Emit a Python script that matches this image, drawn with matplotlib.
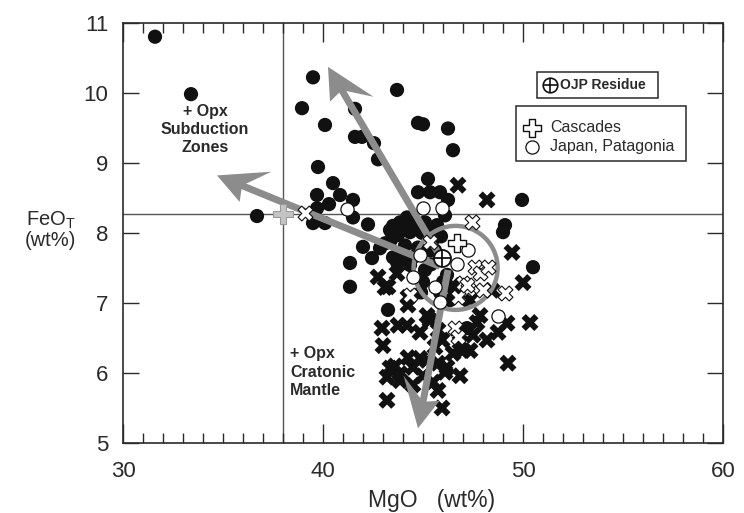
import numpy as np
import matplotlib
matplotlib.use("Agg")
import matplotlib.pyplot as plt
from matplotlib.ticker import MultipleLocator
from matplotlib.patches import Polygon, Rectangle, Ellipse

plt.rcParams['font.family'] = ['Liberation Sans', 'DejaVu Sans']
plt.rcParams['mathtext.fontset'] = 'custom'
plt.rcParams['mathtext.rm'] = 'Liberation Sans'

# ---------------- data ----------------
black_dots_mgo = [31.6, 33.4, 39.5, 38.95, 40.1, 41.6, 43.7, 44.75, 45.0, 46.25, 46.5, 41.6, 41.95, 42.55,
                  42.75, 39.75, 45.25, 40.5, 39.7, 40.85, 41.5, 40.3, 39.7, 36.7, 39.5, 40.1, 41.5, 42.25,
                  44.75, 45.35, 45.85, 46.25, 49.95, 49.1, 49.0, 50.5, 42.0, 42.45, 41.35, 41.35, 43.25,
                  42.85, 43.5, 44.0, 43.35, 44.2, 43.85, 44.45, 45.1, 45.7, 46.1, 43.75, 44.35, 44.95,
                  45.55, 44.1, 44.75, 45.35, 43.7, 44.35, 45.1, 45.0, 46.2, 46.6, 46.35, 45.85, 47.2,
                  43.5, 44.0, 44.6, 45.2, 43.9, 44.5, 43.4, 45.6, 46.0, 45.4, 43.1, 44.9, 45.9]
black_dots_feo = [10.80, 9.98, 10.22, 9.78, 9.54, 9.77, 10.04, 9.57, 9.55, 9.49, 9.18, 9.37, 9.37, 9.28,
                  9.05, 8.94, 8.77, 8.71, 8.54, 8.54, 8.47, 8.41, 8.35, 8.24, 8.14, 8.14, 8.22, 8.12,
                  8.58, 8.58, 8.58, 8.47, 8.47, 8.11, 8.01, 7.51, 7.80, 7.64, 7.57, 7.23, 6.90,
                  7.78, 7.65, 7.65, 8.04, 8.22, 8.15, 8.21, 8.15, 8.11, 8.25, 7.97, 8.01, 8.00,
                  7.92, 7.82, 7.79, 7.75, 7.58, 7.54, 7.47, 7.30, 7.40, 7.18, 7.04, 7.15, 6.64,
                  8.10, 8.05, 8.10, 8.00, 7.70, 7.65, 7.90, 7.75, 7.30, 7.55, 7.85, 7.15, 7.95]

black_x_mgo = [46.75, 48.2, 49.45, 50.0, 48.45, 47.85, 50.35, 42.75, 43.25, 43.7, 44.25, 44.25, 42.95,
               43.75, 44.2, 44.85, 45.35, 45.75, 47.7, 48.2, 49.2, 48.75, 47.35, 43.0, 49.25, 44.25,
               44.85, 43.35, 43.2, 43.85, 43.85, 45.75, 46.1, 46.85, 45.5, 45.75, 43.2, 45.95, 44.5,
               45.0, 46.5, 47.5, 47.0, 44.5, 45.95, 46.85, 45.6, 46.2, 47.35, 46.5, 45.2, 43.6, 45.2, 43.1]
black_x_feo = [8.68, 8.47, 7.72, 7.29, 7.18, 6.82, 6.72, 7.37, 7.23, 7.42, 6.97, 7.08, 6.64,
               6.68, 6.68, 6.58, 6.75, 6.61, 6.72, 6.47, 6.71, 6.58, 6.32, 6.39, 6.14, 6.22,
               6.21, 6.07, 5.94, 5.99, 5.89, 6.14, 6.01, 5.96, 5.87, 5.75, 5.61, 5.50, 6.08,
               5.96, 6.28, 6.54, 6.32, 5.83, 6.47, 6.44, 6.37, 6.08, 7.04, 7.25, 6.18, 6.10, 6.82, 7.22]

white_x_mgo = [39.1, 47.45, 45.35, 47.6, 47.85, 47.0, 47.25, 46.75, 49.1, 48.0, 44.35, 48.25, 46.6, 46.75, 47.2]
white_x_feo = [8.28, 8.15, 7.87, 7.51, 7.42, 7.29, 7.20, 7.08, 7.14, 7.18, 7.11, 7.51, 6.64, 6.51, 7.25]

japan_mgo = [41.2, 45.0, 45.95, 44.85, 46.7, 44.5, 45.6, 45.85, 48.75, 47.25]
japan_feo = [8.34, 8.35, 8.35, 7.68, 7.55, 7.37, 7.22, 7.01, 6.82, 7.75]

cascades_mgo = [46.7]
cascades_feo = [7.85]

ojp_mgo = [45.95]
ojp_feo = [7.64]

opx_point_mgo = [38.0]
opx_point_feo = [8.27]

# arrows: start and tip
arrow_start_mgo = [45.95, 45.85, 46.25]
arrow_start_feo = [7.62, 7.52, 7.47]
arrow_tip_mgo = [40.25, 34.7, 44.75]
arrow_tip_feo = [10.37, 8.82, 5.21]

ring_center = (46.63, 7.50)
ring_radius_mgo = 2.1

ref_line_mgo = 38.0
ref_line_feo = 8.27

x_ticks = [30, 40, 50, 60]
y_ticks = [5, 6, 7, 8, 9, 10, 11]

# ---------------- figure ----------------
W, H = 744, 513
fig = plt.figure(figsize=(W / 100, H / 100), dpi=100)
ax = fig.add_axes([123 / W, 1 - 443 / H, 600 / W, 420.3 / H])
ax.set_xlim(30, 60)
ax.set_ylim(5, 11)
ax.autoscale(False)

dark = '#2a2a2a'
gray = '#8c8c8c'

for s in ax.spines.values():
    s.set_linewidth(1.2)
    s.set_color(dark)

ax.set_xticks(x_ticks)
ax.set_yticks(y_ticks)
ax.xaxis.set_minor_locator(MultipleLocator(1))
ax.tick_params(axis='x', which='major', direction='in', length=14, width=1.0, color=dark,
               top=True, labelsize=16, pad=13, labelcolor=dark)
ax.tick_params(axis='x', which='minor', direction='in', length=7, width=1.0, color=dark, top=True)
ax.tick_params(axis='y', which='major', direction='in', length=11.5, width=1.0, color=dark,
               right=True, labelsize=16, pad=10.5, labelcolor=dark)

# reference lines
ax.axvline(ref_line_mgo, color='#555555', lw=1.0, zorder=1)
ax.axhline(ref_line_feo, color='#555555', lw=1.0, zorder=1)

# data
ax.scatter(black_dots_mgo, black_dots_feo, s=105, marker='o', color='#111111', edgecolors='none', zorder=3)
ax.scatter(black_x_mgo, black_x_feo, s=150, marker='X', color='#111111', edgecolors='none', zorder=3)

# ring
trans = ax.transData
c_disp = trans.transform(ring_center)
r_px = trans.transform((ring_center[0] + ring_radius_mgo, ring_center[1]))[0] - c_disp[0]
ring_h = ring_center[1] - trans.inverted().transform((c_disp[0], c_disp[1] - r_px))[1]
ax.add_patch(Ellipse(ring_center, 2 * ring_radius_mgo, 2 * ring_h, fill=False,
                     edgecolor=gray, lw=3.2, zorder=4))


def draw_arrow(start, tip):
    p0 = trans.transform(start)
    p1 = trans.transform(tip)
    d = p1 - p0
    u = d / np.hypot(*d)
    b = -u
    n = np.array([-b[1], b[0]])
    long_barb = p1 + b * 49 + n * 24
    short_barb = p1 + b * 31 - n * 16
    notch = p1 + b * 27
    inv = trans.inverted()
    head = inv.transform(np.array([p1, long_barb, notch, short_barb]))
    ax.add_patch(Polygon(head, closed=True, facecolor=gray, edgecolor='none', zorder=5))
    shaft = inv.transform(np.array([p0, notch + u * 2]))
    ax.plot(shaft[:, 0], shaft[:, 1], color=gray, lw=5, solid_capstyle='butt', zorder=5)


for sx, sy, tx, ty in zip(arrow_start_mgo, arrow_start_feo, arrow_tip_mgo, arrow_tip_feo):
    draw_arrow((sx, sy), (tx, ty))

ax.scatter(opx_point_mgo, opx_point_feo, s=190, marker='P', color='#c4c4c4', edgecolors='#9a9a9a',
           linewidths=0.8, zorder=6)
ax.scatter(white_x_mgo, white_x_feo, s=115, marker='X', color='white', edgecolors='#111111',
           linewidths=0.8, zorder=6)
ax.scatter(japan_mgo, japan_feo, s=90, marker='o', color='white', edgecolors='#111111',
           linewidths=0.9, zorder=7)
ax.scatter(cascades_mgo, cascades_feo, s=170, marker='P', color='white', edgecolors='#111111',
           linewidths=1.0, zorder=8)
ax.scatter(ojp_mgo, ojp_feo, s=150, marker='o', color='white', edgecolors='#111111',
           linewidths=1.3, zorder=9)
ax.scatter(ojp_mgo, ojp_feo, s=150, marker='+', color='#111111', linewidths=1.3, zorder=10)

# annotations
ax.text(34.1, 9.47, '+ Opx\nSubduction\nZones', ha='center', va='center', fontsize=11.5,
        fontweight='bold', color=dark, linespacing=1.25, zorder=6)
ax.text(38.35, 6.01, '+ Opx\nCratonic\nMantle', ha='left', va='center', fontsize=11.5,
        fontweight='bold', color=dark, linespacing=1.3, zorder=6)

# legend boxes
ax.add_patch(Rectangle((0.69, 0.8208), 0.2017, 0.0619, transform=ax.transAxes, facecolor='white',
                       edgecolor=dark, lw=1.1, zorder=11))
ax.scatter([0.7117], [0.8518], s=110, marker='o', color='white', edgecolors='#111111', linewidths=1.2,
           transform=ax.transAxes, zorder=12, clip_on=False)
ax.scatter([0.7117], [0.8518], s=110, marker='+', color='#111111', linewidths=1.2,
           transform=ax.transAxes, zorder=13, clip_on=False)
ax.text(0.728, 0.8518, 'OJP Residue', transform=ax.transAxes, ha='left', va='center',
        fontsize=10, fontweight='bold', color=dark, zorder=12)

ax.add_patch(Rectangle((0.655, 0.671), 0.283, 0.1308, transform=ax.transAxes, facecolor='white',
                       edgecolor=dark, lw=1.1, zorder=11))
ax.scatter([0.6817], [0.7495], s=170, marker='P', color='white', edgecolors='#111111', linewidths=1.0,
           transform=ax.transAxes, zorder=12, clip_on=False)
ax.scatter([0.6817], [0.7043], s=90, marker='o', color='white', edgecolors='#111111', linewidths=0.9,
           transform=ax.transAxes, zorder=12, clip_on=False)
ax.text(0.7117, 0.7495, 'Cascades', transform=ax.transAxes, ha='left', va='center',
        fontsize=11.5, color=dark, zorder=12)
ax.text(0.7117, 0.7043, 'Japan, Patagonia', transform=ax.transAxes, ha='left', va='center',
        fontsize=11.5, color=dark, zorder=12)

# axis labels
fig.text(432 / W, 1 - 501 / H, 'MgO   (wt%)', ha='center', va='center', fontsize=16.5, color=dark)
fig.text(76 / W, 1 - 230 / H, 'FeO$_\\mathregular{T}$\n(wt%)', ha='right', va='center',
         multialignment='right', fontsize=14.5, color=dark, linespacing=1.0)

fig.savefig('out.png', dpi=100)
